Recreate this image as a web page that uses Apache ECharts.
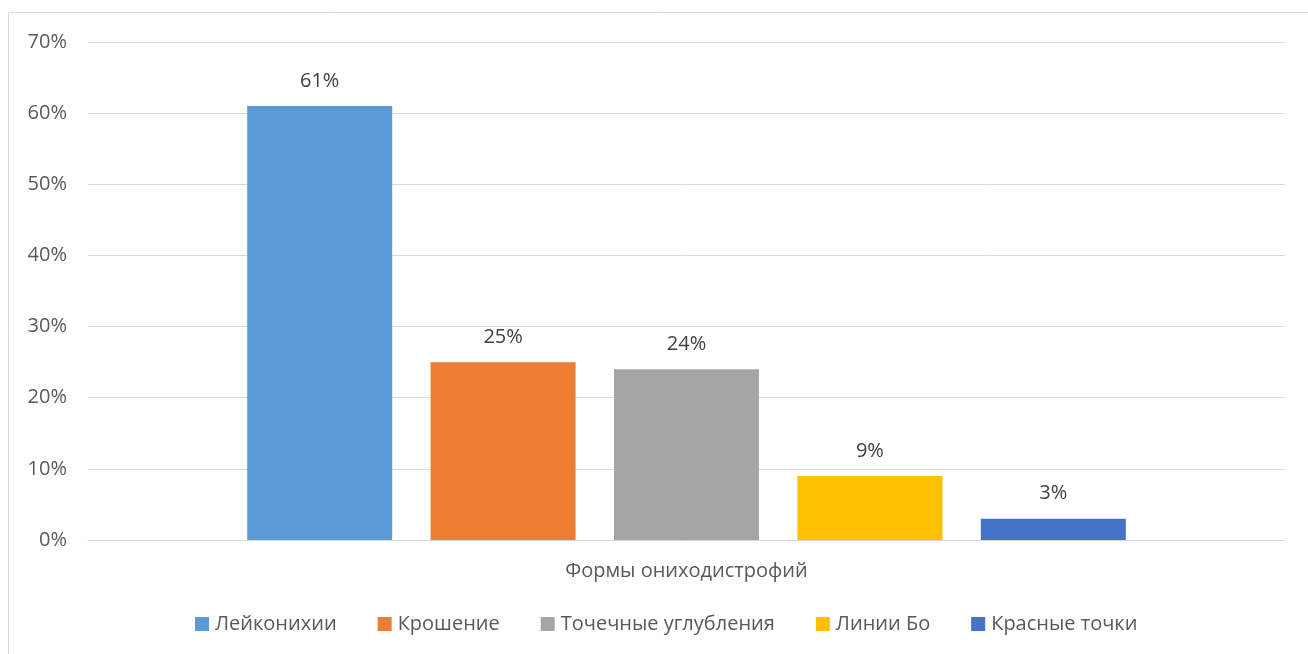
<!DOCTYPE html>
<html><head><meta charset="utf-8">
<script src="https://cdn.jsdelivr.net/npm/echarts@6/dist/echarts.min.js"></script>
<style>html,body{margin:0;padding:0;background:#fff}#c{width:1308px;height:654px}</style>
</head><body><div id="c"></div>
<script>
const categories = ['Формы ониходистрофий'];
const seriesNames = ['Лейконихии', 'Крошение', 'Точечные углубления', 'Линии Бо', 'Красные точки'];
const seriesValues = [61, 25, 24, 9, 3];
const yTicks = { min: 0, max: 70, interval: 10 };
const colors = ['#5B9BD5', '#ED7D31', '#A5A5A5', '#FFC000', '#4472C4'];

const FONT = '"Open Sans", "Liberation Sans", sans-serif';
const FS = 20;
const chart = echarts.init(document.getElementById('c'), null, {renderer: 'canvas'});
chart.setOption({
  animation: false,
  color: colors,
  textStyle: { fontFamily: FONT },
  graphic: [{
    type: 'rect', shape: { x: 8.5, y: 12.5, width: 1400, height: 700 },
    style: { fill: 'none', stroke: '#D9D9D9', lineWidth: 1 }, silent: true, z: -1
  }],
  grid: { left: 88, right: 23, top: 42, bottom: 114, containLabel: false },
  legend: {
    bottom: 20, left: 195, padding: 0,
    itemWidth: 14, itemHeight: 14, itemGap: 41, icon: 'rect',
    textStyle: { color: '#595959', fontSize: FS, fontFamily: FONT, padding: [0,0,0,1] },
    data: seriesNames
  },
  xAxis: {
    type: 'category', data: categories,
    axisLine: { show: true, lineStyle: { color: '#D9D9D9', width: 1 } },
    axisTick: { show: false },
    axisLabel: { color: '#595959', fontSize: FS, margin: 21, fontFamily: FONT }
  },
  yAxis: {
    type: 'value', min: yTicks.min, max: yTicks.max, interval: yTicks.interval,
    axisLine: { show: false }, axisTick: { show: false },
    splitLine: { lineStyle: { color: '#D9D9D9', width: 1 } },
    axisLabel: { color: '#595959', fontSize: FS, margin: 21, fontFamily: FONT, formatter: '{value}%' }
  },
  series: seriesNames.map((n, i) => ({
    name: n, type: 'bar',
    data: [seriesValues[i]],
    barGap: '26.5%', barCategoryGap: '26.6%',
    label: { show: true, position: 'top', distance: 15, color: '#404040', fontSize: FS, fontFamily: FONT, formatter: '{c}%' }
  }))
});
</script></body></html>
